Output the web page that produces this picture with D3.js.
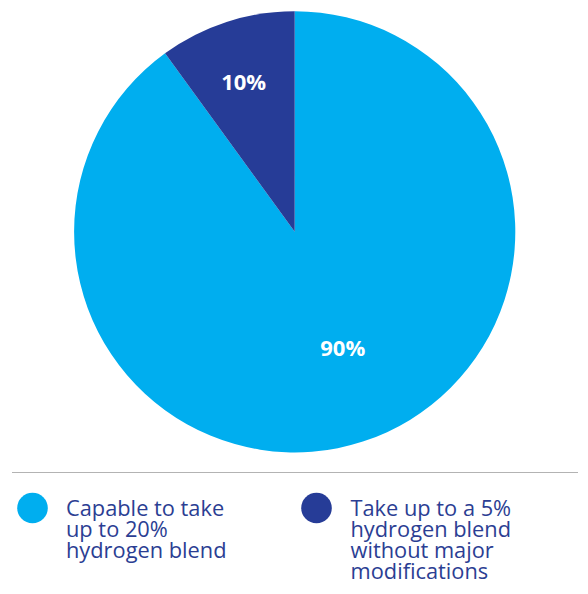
<!DOCTYPE html>
<html>
<head>
<meta charset="utf-8">
<script src="https://cdn.jsdelivr.net/npm/d3@7"></script>
<style>
  html, body { margin: 0; padding: 0; background: #ffffff; }
  svg { display: block; }
</style>
</head>
<body>
<svg id="chart" width="588" height="594"></svg>
<script>
// ---- data ----
const categories = ["Capable to take up to 20% hydrogen blend", "Take up to a 5% hydrogen blend without major modifications"];
const values = [90, 10];
const valueLabels = ["90%", "10%"];
const legendLines = [
  ["Capable to take", "up to 20%", "hydrogen blend"],
  ["Take up to a 5%", "hydrogen blend", "without major", "modifications"]
];
const colors = ["#00AEEF", "#263C97"];

// ---- drawing ----
const svg = d3.select("#chart");
const cx = 294.7, cy = 231.8, R = 220.6;

const pie = d3.pie().sort(null).value(d => d)(values);
const arc = d3.arc().innerRadius(0).outerRadius(R);

const g = svg.append("g").attr("transform", `translate(${cx},${cy})`);
g.selectAll("path.slice")
  .data(pie)
  .enter().append("path")
  .attr("class", "slice")
  .attr("d", arc)
  .attr("fill", (d, i) => colors[i]);

// label placement (radius and angle shift per slice)
const labelRadius = [126, 158];
const labelAngleShift = [-0.077, -0.015];
g.selectAll("text.vlabel")
  .data(pie)
  .enter().append("text")
  .attr("class", "vlabel")
  .attr("x", (d, i) => labelRadius[i] * Math.sin((d.startAngle + d.endAngle) / 2 + labelAngleShift[i]))
  .attr("y", (d, i) => -labelRadius[i] * Math.cos((d.startAngle + d.endAngle) / 2 + labelAngleShift[i]))
  .attr("text-anchor", "middle")
  .attr("dy", "0.36em")
  .attr("fill", "#ffffff")
  .attr("font-family", "'Open Sans', sans-serif")
  .attr("font-weight", "bold")
  .attr("font-size", 22)
  .text((d, i) => valueLabels[i]);

// separator line
svg.append("line")
  .attr("x1", 12).attr("x2", 578)
  .attr("y1", 472.5).attr("y2", 472.5)
  .attr("stroke", "#b3b3b3")
  .attr("stroke-width", 1.2);

// legend
const legendX = [32.5, 316.5];
const textX = [66, 350.5];
const leg = svg.selectAll("g.legend")
  .data(categories)
  .enter().append("g")
  .attr("class", "legend");

leg.append("circle")
  .attr("cx", (d, i) => legendX[i])
  .attr("cy", 508)
  .attr("r", 15.3)
  .attr("fill", (d, i) => colors[i]);

leg.append("text")
  .attr("font-family", "'Open Sans', sans-serif")
  .attr("font-size", 21.8)
  .attr("fill", "#2B3E93")
  .each(function(d, i) {
    const t = d3.select(this);
    legendLines[i].forEach((line, j) => {
      t.append("tspan")
        .attr("x", textX[i])
        .attr("y", 516 + j * 20.9)
        .text(line);
    });
  });
</script>
</body>
</html>
